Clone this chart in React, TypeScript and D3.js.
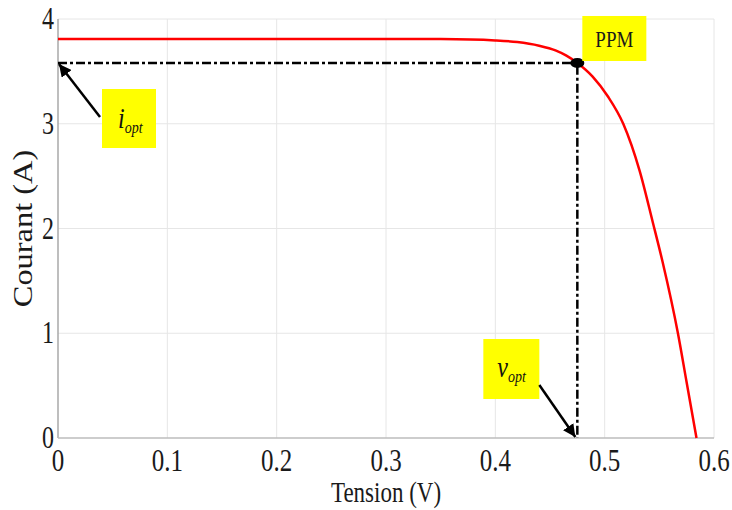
import React, { useEffect, useRef } from "react";
import * as d3 from "d3";

// I-V curve
const voltage = [0, 0.1, 0.2, 0.3, 0.35, 0.4, 0.42, 0.44, 0.455, 0.465, 0.475, 0.489, 0.503, 0.517, 0.532, 0.544, 0.553, 0.567, 0.575, 0.584];
const current = [3.81, 3.81, 3.81, 3.81, 3.808, 3.795, 3.78, 3.745, 3.70, 3.65, 3.58, 3.45, 3.26, 3.0, 2.55, 2.06, 1.68, 1.0, 0.53, 0];

const xTicks = [0, 0.1, 0.2, 0.3, 0.4, 0.5, 0.6];
const yTicks = [0, 1, 2, 3, 4];
const vOpt = 0.475;
const iOpt = 3.58;

const SERIF = '"Liberation Serif", "Times New Roman", serif';

export default function App() {
  const ref = useRef<SVGSVGElement>(null);

  useEffect(() => {
    const svg = d3.select(ref.current).html("");
    const margin = { top: 19, right: 18, bottom: 72, left: 58 };
    const width = 732 - margin.left - margin.right;
    const height = 510 - margin.top - margin.bottom;

    const x = d3.scaleLinear().domain([0, 0.6]).range([0, width]);
    const y = d3.scaleLinear().domain([0, 4]).range([height, 0]);

    const defs = svg.append("defs");
    defs.append("marker")
      .attr("id", "arr")
      .attr("viewBox", "0 0 10 10")
      .attr("refX", 10).attr("refY", 5)
      .attr("markerWidth", 5).attr("markerHeight", 5)
      .attr("orient", "auto")
      .append("path").attr("d", "M0,0 L10,5 L0,10 z").attr("fill", "#000");

    const g = svg.append("g").attr("transform", `translate(${margin.left},${margin.top})`);

    // text stretched vertically like the scanned figure
    const label = (tx: number, ty: number, s: string, size: number, sy: number, anchor = "middle") =>
      g.append("text")
        .attr("transform", `translate(${tx},${ty}) scale(1,${sy})`)
        .attr("text-anchor", anchor)
        .attr("font-family", SERIF).attr("font-size", size)
        .attr("fill", "#1a1a1a")
        .text(s);

    // grid
    g.selectAll(".vg").data(xTicks.slice(1)).join("line")
      .attr("x1", d => x(d)).attr("x2", d => x(d))
      .attr("y1", 0).attr("y2", height)
      .attr("stroke", "#e6e6e6").attr("stroke-width", 1);
    g.selectAll(".hg").data(yTicks.slice(1)).join("line")
      .attr("x1", 0).attr("x2", width)
      .attr("y1", d => y(d)).attr("y2", d => y(d))
      .attr("stroke", "#e6e6e6").attr("stroke-width", 1);

    // axes lines
    g.append("line").attr("x1", 0).attr("x2", 0).attr("y1", 0).attr("y2", height)
      .attr("stroke", "#a8a8a8").attr("stroke-width", 1.5);
    g.append("line").attr("x1", 0).attr("x2", width).attr("y1", height).attr("y2", height)
      .attr("stroke", "#bdbdbd").attr("stroke-width", 1.5);

    // tick labels
    xTicks.forEach(d => label(x(d), height + 33, d === 0 ? "0" : d.toFixed(1), 25, 1.3));
    yTicks.forEach(d => label(-4, y(d) + 10, String(d), 24, 1.3, "end"));

    // axis titles
    label(width / 2, height + 64, "Tension (V)", 23, 1.25);
    g.append("text")
      .attr("transform", `translate(-26,${height / 2}) scale(1,1.2) rotate(-90)`)
      .attr("text-anchor", "middle")
      .attr("font-family", SERIF).attr("font-size", 27)
      .attr("fill", "#1a1a1a")
      .text("Courant (A)");

    // dash-dot lines to MPP
    g.append("path")
      .attr("d", `M${x(0)},${y(iOpt)} H${x(vOpt)} V${y(0)}`)
      .attr("fill", "none").attr("stroke", "#000").attr("stroke-width", 2.5)
      .attr("stroke-dasharray", "9,3,3,3");

    // curve
    const pts = voltage.map((v, i) => [v, current[i]] as [number, number]);
    g.append("path")
      .datum(pts)
      .attr("d", d3.line<[number, number]>().x(d => x(d[0])).y(d => y(d[1])).curve(d3.curveMonotoneX))
      .attr("fill", "none").attr("stroke", "#ff0000").attr("stroke-width", 2.5);

    g.append("ellipse").attr("cx", x(vOpt)).attr("cy", y(iOpt)).attr("rx", 7).attr("ry", 5).attr("fill", "#000");

    // annotations
    const box = (bx: number, by: number, bw: number, bh: number) =>
      g.append("rect").attr("x", bx).attr("y", by).attr("width", bw).attr("height", bh).attr("fill", "#ffff00");

    // PPM
    box(x(vOpt) + 5, y(iOpt) - 47, 64, 45);
    label(x(vOpt) + 37, y(iOpt) - 16, "PPM", 19, 1.2);

    // i_opt
    box(44, 70, 54, 59);
    const ti = g.append("text").attr("transform", "translate(60,109) scale(1,1.2)")
      .attr("font-family", SERIF).attr("font-style", "italic").attr("fill", "#111");
    ti.append("tspan").attr("font-size", 24).text("i");
    ti.append("tspan").attr("font-size", 14).attr("dy", 4).text("opt");
    g.append("line").attr("x1", 42).attr("y1", 98).attr("x2", 1).attr("y2", y(iOpt) + 1)
      .attr("stroke", "#000").attr("stroke-width", 2.5).attr("marker-end", "url(#arr)");

    // v_opt
    box(x(vOpt) - 94, 320, 56, 60);
    const tv = g.append("text").attr("transform", `translate(${x(vOpt) - 80},358) scale(1,1.2)`)
      .attr("font-family", SERIF).attr("font-style", "italic").attr("fill", "#111");
    tv.append("tspan").attr("font-size", 24).text("v");
    tv.append("tspan").attr("font-size", 14).attr("dy", 4).text("opt");
    g.append("line").attr("x1", x(vOpt) - 38).attr("y1", 366).attr("x2", x(vOpt) - 2).attr("y2", height - 1)
      .attr("stroke", "#000").attr("stroke-width", 2.5).attr("marker-end", "url(#arr)");
  }, []);

  return (
    <div>
      <svg ref={ref} width={732} height={510} style={{ display: "block", position: "absolute", left: 0, top: 0, background: "#fff" }}></svg>
    </div>
  );
}
